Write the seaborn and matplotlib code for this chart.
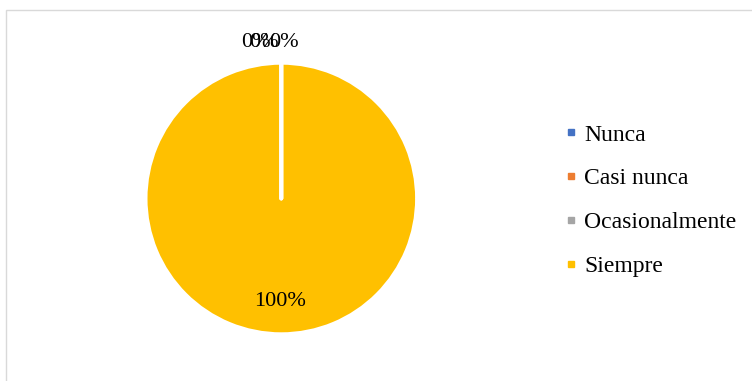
import matplotlib
matplotlib.use("Agg")
import matplotlib.pyplot as plt
import seaborn as sns
from matplotlib.lines import Line2D
from matplotlib.patches import Rectangle

# Survey answers (percent of respondents)
categories = ["Nunca", "Casi nunca", "Ocasionalmente", "Siempre"]
values = [0, 0, 0, 100]
colors = ["#4472C4", "#ED7D31", "#A5A5A5", "#FFC000"]

sns.set_theme(style="white")
plt.rcParams["font.family"] = ["Liberation Serif", "DejaVu Serif"]

W, H, DPI = 752, 381, 100
fig = plt.figure(figsize=(W / DPI, H / DPI), dpi=DPI)
fig.patch.set_facecolor("white")

# light chart-area frame
fig.add_artist(Rectangle((6 / W, -0.1), 1.2, 1 - 9.5 / H + 0.1,
                         transform=fig.transFigure, fill=False,
                         edgecolor="#D9D9D9", linewidth=1.0, clip_on=False))

cx, cy, r = 281.3, 198.5, 134
ax = fig.add_axes([(cx - r) / W, (H - cy - r) / H, 2 * r / W, 2 * r / H])

wedges, _ = ax.pie(values, colors=colors, startangle=90, counterclock=False,
                   radius=1.013,
                   wedgeprops=dict(edgecolor="white", linewidth=2.8))
# empty slices still show their white border on top of the full slice
for w, v in zip(wedges, values):
    if v == 0:
        w.set_zorder(3)
        w.set_capstyle("round")
ax.set_xlim(-1, 1)
ax.set_ylim(-1, 1)
ax.set_aspect("equal")
ax.axis("off")

total = sum(values)
pct = [f"{v / total * 100:.0f}%" for v in values]

# data labels: zero slices crowd above the top edge, main slice inside
label_pos = [(-0.19, 1.164), (-0.13, 1.164), (0.02, 1.164), (-0.01, -0.765)]
for (x, y), t in zip(label_pos, pct):
    ax.text(x, y, t, ha="center", va="center", fontsize=16, color="black",
            clip_on=False, zorder=5)

handles = [Line2D([0], [0], marker="s", linestyle="none", markersize=5,
                  markerfacecolor=c, markeredgecolor=c) for c in colors]
fig.legend(handles, categories, loc="center left",
           bbox_to_anchor=(565 / W, 1 - 200.5 / H), frameon=False,
           fontsize=17, handlelength=0.5, handletextpad=0.3,
           labelspacing=0.94, borderpad=0, borderaxespad=0,
           labelcolor="black")

fig.savefig("out.png", dpi=DPI, facecolor="white")
